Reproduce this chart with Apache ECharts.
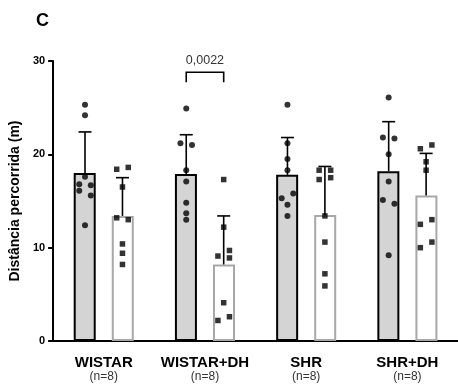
<!DOCTYPE html>
<html>
<head>
<meta charset="UTF-8">
<title>Distância percorrida</title>
<script src="https://cdn.jsdelivr.net/npm/echarts@6.0.0/dist/echarts.min.js"></script>
<style>
body{margin:0;background:#fff;}
#chart{width:458px;height:390px;}
</style>
</head>
<body>
<div id="chart"></div>
<script type="text/javascript">
var grupos = ['WISTAR', 'WISTAR+DH', 'SHR', 'SHR+DH'];
var nGrupo = ['(n=8)', '(n=8)', '(n=8)', '(n=8)'];
var yTicks = [0, 10, 20, 30];

// media e DP: barra cinza / barra branca
var mediaCinza = [18.0, 17.9, 17.8, 18.2];
var dpCinza = [4.4, 4.2, 4.0, 5.3];
var mediaBranca = [13.4, 8.2, 13.5, 15.6];
var dpBranca = [4.1, 5.2, 5.2, 4.5];

// valores individuais (n=8 por barra)
var pontosCinza = [
	[25.3, 24.2, 17.6, 16.8, 16.7, 16.1, 15.6, 12.4],
	[24.9, 21.2, 21.0, 18.3, 17.1, 14.8, 13.7, 13.0],
	[25.3, 21.2, 19.5, 18.3, 15.3, 15.8, 14.6, 13.4],
	[26.1, 21.8, 21.7, 20.0, 17.1, 15.1, 14.7, 9.2]
];
var pontosBranca = [
	[18.4, 18.6, 16.5, 13.2, 13.0, 10.4, 9.4, 8.2],
	[17.3, 12.2, 9.1, 9.7, 8.9, 4.1, 2.2, 2.6],
	[18.3, 18.3, 17.3, 17.5, 13.4, 10.6, 7.2, 5.9],
	[21.0, 20.6, 19.2, 18.3, 12.5, 13.0, 10.0, 10.6]
];
// lado do espalhamento de cada ponto (-1 esquerda, 0 centro, 1 direita)
var espCinza = [
	[0, 0, 0, -1, 1, -1, 1, 0],
	[0, -1, 1, 0, 0, 0, 0, 0],
	[0, 0, 0, 0, -1, 1, 0, 0],
	[0, -1, 1, 0, 0, -1, 1, 0]
];
var espBranca = [
	[-1, 1, 0, -1, 1, 0, 0, 0],
	[0, 0, -1, 1, 1, 0, -1, 1],
	[-1, 1, -1, 1, 0, 0, 0, 0],
	[1, -1, 0, 0, -1, 1, -1, 1]
];

// comparacao significativa
var sigGrupo = [1];
var sigTexto = ['0,0022'];

var fonte = '"Liberation Sans", Arial, sans-serif';
var DESLOC = 0.185;   // centro da barra em relacao ao centro da categoria
var PASSO = 0.057;    // espalhamento dos pontos

function posX(i, lado, e) {
	return i + 0.5 + lado * DESLOC + e * PASSO;
}

function montaPontos(pontos, esp, lado) {
	var out = [];
	for (var i = 0; i < pontos.length; i++) {
		for (var k = 0; k < pontos[i].length; k++) {
			out.push([posX(i, lado, esp[i][k]), pontos[i][k]]);
		}
	}
	return out;
}

function montaErro(media, dp, lado) {
	var out = [];
	for (var i = 0; i < media.length; i++) {
		out.push([posX(i, lado, 0), media[i], dp[i]]);
	}
	return out;
}

function desenhaErro(params, api) {
	var x = api.value(0), m = api.value(1), s = api.value(2);
	var p0 = api.coord([x, m]);
	var p1 = api.coord([x, m + s]);
	var estilo = {stroke: '#000', lineWidth: 1.6};
	return {
		type: 'group',
		children: [
			{type: 'line', shape: {x1: p0[0], y1: p0[1], x2: p1[0], y2: p1[1]}, style: estilo},
			{type: 'line', shape: {x1: p1[0] - 6.5, y1: p1[1], x2: p1[0] + 6.5, y2: p1[1]}, style: estilo}
		]
	};
}

function desenhaSig(params, api) {
	var i = api.value(0);
	var a = api.coord([posX(i, -1, 0), 28.8]);
	var b = api.coord([posX(i, 1, 0), 28.8]);
	var h = 10;
	return {
		type: 'group',
		children: [
			{type: 'polyline', shape: {points: [[a[0], a[1] + h], [a[0], a[1]], [b[0], b[1]], [b[0], b[1] + h]]},
				style: {stroke: '#000', lineWidth: 1.6, fill: null}},
			{type: 'text', x: (a[0] + b[0]) / 2, y: a[1] - 5,
				style: {text: sigTexto[params.dataIndex], fill: '#333', font: '12.5px ' + fonte,
					align: 'center', verticalAlign: 'bottom'}}
		]
	};
}

var myChart = echarts.init(document.getElementById('chart'));
var option = {
	backgroundColor: '#fff',
	animation: false,
	title: {
		text: 'C', left: 31, top: 7,
		textStyle: {fontFamily: fonte, fontSize: 18, fontWeight: 'bold', color: '#000'}
	},
	grid: {left: 52, top: 61, width: 411, height: 280},
	xAxis: [{
		type: 'category',
		data: grupos,
		axisLine: {lineStyle: {color: '#000', width: 2}},
		axisTick: {alignWithLabel: true, length: 5, lineStyle: {color: '#000', width: 2}},
		axisLabel: {
			margin: 14,
			interval: 0,
			formatter: function(v, i) { return '{a|' + v + '}\n{b|' + nGrupo[i] + '}'; },
			rich: {
				a: {fontFamily: fonte, fontSize: 15, fontWeight: 'bold', color: '#000', lineHeight: 15},
				b: {fontFamily: fonte, fontSize: 12, color: '#333', lineHeight: 13}
			}
		}
	}, {
		type: 'value', min: 0, max: 4, show: false
	}],
	yAxis: {
		type: 'value',
		min: yTicks[0],
		max: yTicks[yTicks.length - 1],
		interval: 10,
		name: 'Distância percorrida (m)',
		nameLocation: 'middle',
		nameGap: 24,
		nameTextStyle: {fontFamily: fonte, fontSize: 14, fontWeight: 'bold', color: '#000'},
		axisLine: {show: true, lineStyle: {color: '#000', width: 2}},
		axisTick: {show: true, length: 5, lineStyle: {color: '#000', width: 2}},
		axisLabel: {margin: 8, fontFamily: fonte, fontSize: 11, fontWeight: 'bold', color: '#000'},
		splitLine: {show: false}
	},
	series: [{
		type: 'bar',
		data: mediaCinza,
		barWidth: 22,
		barGap: '73%',
		itemStyle: {color: '#d4d4d4', borderColor: '#000', borderWidth: 2},
		z: 2
	}, {
		type: 'bar',
		data: mediaBranca,
		barWidth: 22,
		itemStyle: {color: '#fff', borderColor: '#a8a8a8', borderWidth: 2},
		z: 2
	}, {
		type: 'custom',
		xAxisIndex: 1,
		renderItem: desenhaErro,
		data: montaErro(mediaCinza, dpCinza, -1).concat(montaErro(mediaBranca, dpBranca, 1)),
		z: 3
	}, {
		type: 'scatter',
		xAxisIndex: 1,
		symbol: 'circle',
		symbolSize: 6,
		itemStyle: {color: '#000'},
		data: montaPontos(pontosCinza, espCinza, -1),
		z: 4
	}, {
		type: 'scatter',
		xAxisIndex: 1,
		symbol: 'rect',
		symbolSize: 5.5,
		itemStyle: {color: '#000'},
		data: montaPontos(pontosBranca, espBranca, 1),
		z: 4
	}, {
		type: 'custom',
		xAxisIndex: 1,
		renderItem: desenhaSig,
		data: sigGrupo.map(function(g) { return [g]; }),
		z: 5
	}]
};
myChart.setOption(option);
</script>
</body>
</html>
